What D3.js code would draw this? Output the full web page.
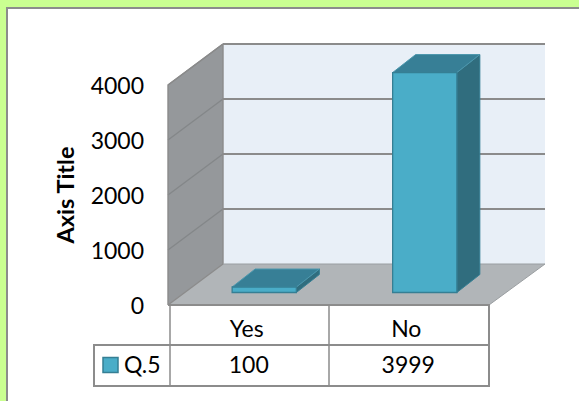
<!DOCTYPE html>
<html><head><meta charset="utf-8">
<script src="https://cdnjs.cloudflare.com/ajax/libs/d3/7.8.5/d3.min.js"></script>
<style>html,body{margin:0;padding:0;background:#fff}svg{display:block}text{font-family:Lato,"Open Sans",sans-serif;fill:#000}</style>
</head><body><div id="c"></div>
<script>
const categories = ["Yes", "No"];
const seriesName = "Q.5";
const values = [100, 3999];
const ticks = [0, 1000, 2000, 3000, 4000];
const axisTitle = "Axis Title";

const W = 579, H = 401;
const svg = d3.select("#c").append("svg").attr("width", W).attr("height", H);
const FS = 23;
// frame
svg.append("rect").attr("width", W).attr("height", H).attr("fill", "#CAFF91");
svg.append("rect").attr("x", 7).attr("y", 8).attr("width", W + 10).attr("height", H + 10)
  .attr("fill", "#fff").attr("stroke", "#8c8c8c").attr("stroke-width", 2);

const x0 = 168, x1 = 489, DX = 55, DY = 41;   // plot front extents, 3D depth
const y = d3.scaleLinear().domain([0, 4000]).range([305, 85]);
const x = d3.scaleBand().domain(categories).range([x0, x1]).paddingInner(0.6).paddingOuter(0.3);
const poly = (pts, fill, stroke, sw) => svg.append("polygon")
  .attr("points", pts.map(p => p.join(",")).join(" "))
  .attr("fill", fill).attr("stroke", stroke || "none").attr("stroke-width", sw || 0);

// back wall
poly([[x0 + DX, y(4000) - DY], [x1 + DX + 1, y(4000) - DY], [x1 + DX + 1, y(0) - DY], [x0 + DX, y(0) - DY]], "#E8EFF7");
// side wall
poly([[x0, y(0)], [x0, y(4000)], [x0 + DX, y(4000) - DY], [x0 + DX, y(0) - DY]], "#95989B");
// floor
poly([[x0, y(0)], [x0 + DX, y(0) - DY], [x1 + DX + 1, y(0) - DY], [x1, y(0)]], "#B1B5B8");
// gridlines
const grid = svg.append("g").attr("fill", "none").attr("stroke", "#8b8b8b");
ticks.forEach(t => {
  if (t > 0) {
    grid.append("line").attr("x1", x0 + DX).attr("x2", x1 + DX + 1).attr("y1", y(t) - DY).attr("y2", y(t) - DY).attr("stroke-width", 2);
    grid.append("line").attr("x1", x0).attr("x2", x0 + DX).attr("y1", y(t)).attr("y2", y(t) - DY).attr("stroke-width", 1.4).attr("stroke", "#848789");
  }
});
grid.append("path").attr("stroke-width", 1.4)
  .attr("d", `M${x0},${y(0)}V${y(4000)}L${x0 + DX},${y(4000) - DY}M${x0 + DX},${y(4000) - DY}V${y(0) - DY}L${x0},${y(0)}`);
grid.append("path").attr("stroke", "#9a9ea1").attr("stroke-width", 1)
  .attr("d", `M${x0 + DX},${y(0) - DY}H${x1 + DX + 1}L${x1},${y(0)}`);

// bars
const bx = 16, by = 12.5, bdx = 23, bdy = 18;
categories.forEach((c, i) => {
  const l = x(c) + bx, r = l + x.bandwidth(), b = y(0) - by, t = y(values[i]) - by;
  poly([[r, b], [r + bdx, b - bdy], [r + bdx, t - bdy], [r, t]], "#306D7E", "#357F94", 1);
  poly([[l, t], [l + bdx, t - bdy], [r + bdx, t - bdy], [r, t]], "#377F96", "#4C97AD", 1);
  poly([[l, b], [l, t], [r, t], [r, b]], "#4AADC8", "#357F94", 1.3);
});

// y axis labels via d3 axis
const ax = svg.append("g").attr("transform", "translate(144,0)")
  .call(d3.axisLeft(y).tickValues(ticks).tickSize(0).tickPadding(0).tickFormat(d3.format("d")));
ax.select(".domain").remove();
ax.selectAll("text").attr("font-size", FS).style("font-family", "Lato").attr("dy", "0.39em");
svg.append("text").attr("transform", "translate(74,195) rotate(-90)").attr("text-anchor", "middle")
  .attr("font-size", 23.5).attr("font-weight", 700).text(axisTitle);

// data table
const tb = y(0), rowM = 345, rowB = 386, legL = 94;
const tl = svg.append("g").attr("stroke", "#8c8c8c").attr("fill", "none").attr("stroke-width", 1.5);
const tx0 = 170, mid = 329;
tl.append("path").attr("stroke-width", 2).attr("d", `M${x0},${tb}H${x1}V${rowB}H${legL}V${rowM}H${x1}`);
tl.append("path").attr("d", `M${tx0},${tb}V${rowB}M${mid},${tb}V${rowB}`);
const dt = svg.append("g").attr("font-size", FS).attr("text-anchor", "middle");
categories.forEach((c, i) => {
  const cx = tx0 + (i + 0.5) * (x1 - tx0) / categories.length;
  dt.append("text").attr("x", cx - 3).attr("y", 337).text(c);
  dt.append("text").attr("x", cx - 1).attr("y", 373).text(values[i]);
});
svg.append("rect").attr("x", 103).attr("y", 357.5).attr("width", 15).attr("height", 15)
  .attr("fill", "#4AADC8").attr("stroke", "#357F94").attr("stroke-width", 1.5);
svg.append("text").attr("x", 124).attr("y", 373).attr("font-size", FS).text(seriesName);
</script></body></html>
